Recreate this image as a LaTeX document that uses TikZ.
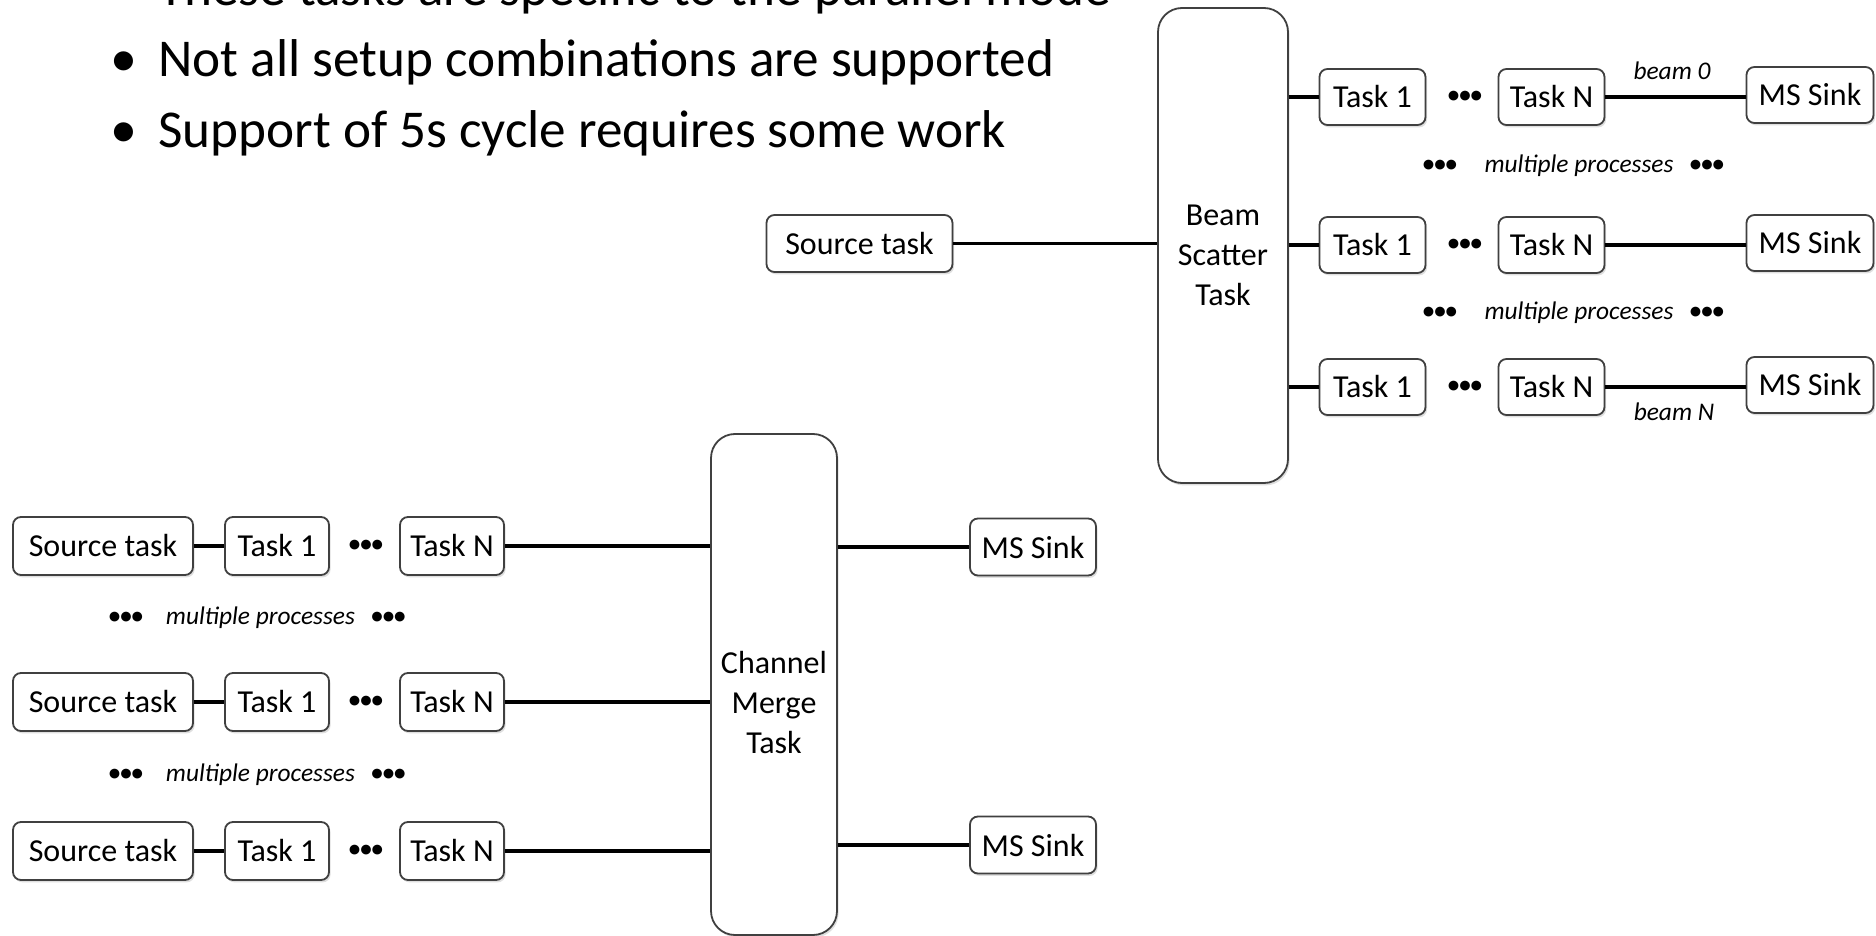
\documentclass[tikz,border=0pt]{standalone}
\usepackage{fontspec}
\setmainfont{Carlito}
\usetikzlibrary{shadows}
\begin{document}
\begin{tikzpicture}[x=0.5pt,y=-0.5pt,
  box/.style={draw=black!75, line width=0.9pt, rounded corners=4pt, fill=white,
    inner sep=0pt, font=\fontsize{16}{19}\selectfont,
    drop shadow={shadow xshift=0.8pt, shadow yshift=-1.2pt, opacity=0.25}},
  taskbox/.style={box, minimum width=53pt, minimum height=28pt},
  sinkbox/.style={box, minimum width=63.5pt, minimum height=28pt},
  srcbox/.style={box, minimum width=93pt, minimum height=28.5pt},
  bigbox/.style={box, rounded corners=12pt},
  biglabel/.style={align=center, font=\fontsize{16}{20}\selectfont},
  conn/.style={line width=1.8pt, black},
  dotsnode/.style={inner sep=0pt, font=\fontsize{11.5}{12}\bfseries\selectfont},
  mpnode/.style={inner sep=0pt, font=\fontsize{12.7}{14}\itshape\selectfont},
  bullettext/.style={inner sep=0pt, anchor=base west, font=\fontsize{26.6}{30}\selectfont},
  bulletmark/.style={inner sep=0pt, anchor=base, font=\fontsize{27}{30}\selectfont}
]
\fill[white] (0,0) rectangle (1876,936);
\useasboundingbox (0,0) rectangle (1876,936);

% bullet list
\node[bulletmark] (b1) at (123.5,6) {•};
\node[bullettext] (l1) at (158,6) {These tasks are specific to the parallel mode};
\node[bulletmark] (b2) at (123.5,77) {•};
\node[bullettext] (l2) at (158,77) {Not all setup combinations are supported};
\node[bulletmark] (b3) at (123.5,148) {•};
\node[bullettext] (l3) at (158,148) {Support of 5s cycle requires some work};

% ---------- top right: beam scatter ----------
\node[srcbox] (src0) at (859.5,243.5) {Source task};
\node[bigbox, minimum width=65pt, minimum height=237.5pt] (bst) at (1223,245.5) {};
\node[biglabel] (bstl) at (1223,255) {Beam\\Scatter\\Task};

\foreach \r/\y in {a/97,b/245,c/387}{
  \node[taskbox] (t1\r) at (1372.5,\y) {Task 1};
  \node[dotsnode] (d\r) at (1465,\y) {•••};
  \node[taskbox] (tN\r) at (1551.5,\y) {Task N};
  \node[sinkbox] (ms\r) at (1810,\y-2) {MS Sink};
  \draw[conn] (t1\r.west -| bst.east) -- (t1\r.west);
  \draw[conn] (tN\r.east) -- (tN\r.east -| ms\r.west);
}
\draw[conn] (src0.east) -- (src0.east -| bst.west);

\node[mpnode] (bm0) at (1672,71) {beam 0};
\node[mpnode] (bmN) at (1674,412) {beam N};

\foreach \n/\y in {1/166,2/313}{
  \node[dotsnode] (mpl\n) at (1440,\y) {•••};
  \node[mpnode] (mp\n) at (1579,\y) {multiple processes};
  \node[dotsnode] (mpr\n) at (1707,\y) {•••};
}

% ---------- bottom left: channel merge ----------
\node[bigbox, minimum width=63pt, minimum height=250.5pt] (cmt) at (774,684.5) {};
\node[biglabel] (cmtl) at (774,703) {Channel\\Merge\\Task};

\foreach \r/\y in {A/546,B/702,C/851}{
  \node[srcbox, minimum width=90pt, minimum height=29pt] (s\r) at (103,\y) {Source task};
  \node[taskbox, minimum width=52pt, minimum height=29pt] (u1\r) at (277,\y) {Task 1};
  \node[dotsnode] (e\r) at (366,\y) {•••};
  \node[taskbox, minimum width=52pt, minimum height=29pt] (uN\r) at (452,\y) {Task N};
  \draw[conn] (s\r.east) -- (u1\r.west);
  \draw[conn] (uN\r.east) -- (uN\r.east -| cmt.west);
}

\node[sinkbox, minimum width=63pt, minimum height=28.5pt] (msA) at (1033,547) {MS Sink};
\node[sinkbox, minimum width=63pt, minimum height=28.5pt] (msC) at (1033,845) {MS Sink};
\draw[conn] (msA.west -| cmt.east) -- (msA.west);
\draw[conn] (msC.west -| cmt.east) -- (msC.west);

\foreach \n/\y in {1/618,2/775}{
  \node[dotsnode] (ml\n) at (126,\y) {•••};
  \node[mpnode] (mq\n) at (260.5,\y) {multiple processes};
  \node[dotsnode] (mr\n) at (388.5,\y) {•••};
}
\end{tikzpicture}
\end{document}
